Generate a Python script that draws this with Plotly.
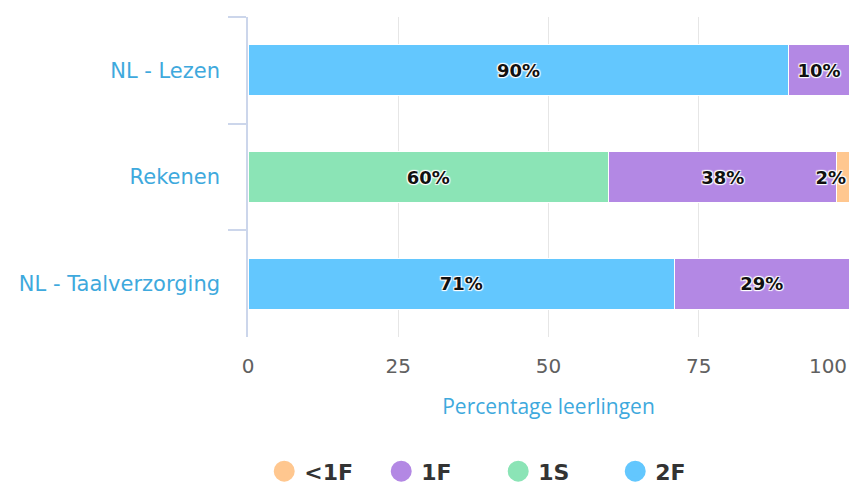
import plotly.graph_objects as go

categories = ["NL - Lezen", "Rekenen", "NL - Taalverzorging"]
series_names = ["2F", "1S", "1F", "<1F"]
values_2F = [90, 0, 71]
values_1S = [0, 60, 0]
values_1F = [10, 38, 29]
values_lt1F = [0, 2, 0]
colors = {"2F": "#63c7fe", "1S": "#8be4b6", "1F": "#b388e4", "<1F": "#ffc78f"}
legend_order = ["<1F", "1F", "1S", "2F"]
x_ticks = [0, 25, 50, 75]
x_last_tick = [100]
x_title = "Percentage leerlingen"

series = {"2F": values_2F, "1S": values_1S, "1F": values_1F, "<1F": values_lt1F}
outline = "1px 1px 1px white, -1px -1px 1px white, 1px -1px 1px white, -1px 1px 1px white"

fig = go.Figure()
for name in series_names:
    vals = series[name]
    fig.add_trace(go.Bar(
        y=categories, x=vals, name=name, orientation="h",
        marker=dict(color=colors[name], line=dict(color="white", width=1)),
        text=[f"{v}%" if v else "" for v in vals],
        textposition="inside", textangle=0,
        insidetextanchor="end" if name == "<1F" else "middle",
        constraintext="none", cliponaxis=False,
        textfont=dict(family="DejaVu Sans", size=18, color="#111", weight="bold", shadow=outline),
        width=0.48, showlegend=False,
        hoverinfo="x+y+name",
    ))

# legend entries (circle symbols)
for name in legend_order:
    fig.add_trace(go.Scatter(
        x=[None], y=[None], mode="markers", name=name,
        marker=dict(symbol="circle", size=16, color=colors[name],
                    line=dict(color=colors[name], width=5)),
        showlegend=True, hoverinfo="skip",
    ))

# secondary axis carrying the lone 100 tick (shifted inward like the original)
fig.add_trace(go.Scatter(x=[None], y=[None], xaxis="x2", yaxis="y", showlegend=False, hoverinfo="skip"))

fig.update_layout(
    barmode="stack",
    width=853, height=485,
    margin=dict(l=248, r=4, t=17, b=148, autoexpand=False),
    paper_bgcolor="white", plot_bgcolor="white",
    font=dict(family="DejaVu Sans"),
    xaxis=dict(range=[0, 100], tickvals=x_ticks, showgrid=True, gridcolor="#e6e6e6",
               gridwidth=1, zeroline=False, showline=False, ticks="", automargin=False,
               tickfont=dict(size=20, color="#606060"), ticklabelstandoff=15,
               title=dict(text=x_title, font=dict(family="Open Sans", size=21, color="#3ea9dd"),
                          standoff=22)),
    xaxis2=dict(range=[0, 100], overlaying="x", anchor="y", side="bottom",
                tickvals=x_last_tick, showgrid=True, gridcolor="#e6e6e6", gridwidth=1,
                zeroline=False, showline=False, ticks="", automargin=False,
                tickfont=dict(size=20, color="#606060"), ticklabelstandoff=15,
                ticklabelshift=-21, ticklabeloverflow="allow"),
    yaxis=dict(categoryorder="array", categoryarray=categories, autorange="reversed",
               showline=True, linecolor="#ccd6eb", linewidth=1.5, ticks="outside",
               tickson="boundaries", ticklen=18, tickcolor="#ccd6eb", tickwidth=1.5,
               showgrid=False, automargin=False,
               tickfont=dict(size=21, color="#3ea9dd"), ticklabelstandoff=22),
    legend=dict(orientation="h", traceorder="normal", x=0.027, xanchor="left",
                y=-0.42, yanchor="middle", font=dict(size=22, color="#333", weight="bold"),
                itemsizing="trace", entrywidth=72, entrywidthmode="pixels"),
    showlegend=True,
)

fig.write_html("out.html", post_script="document.body.style.margin='0';",
               config={"displayModeBar": False})
